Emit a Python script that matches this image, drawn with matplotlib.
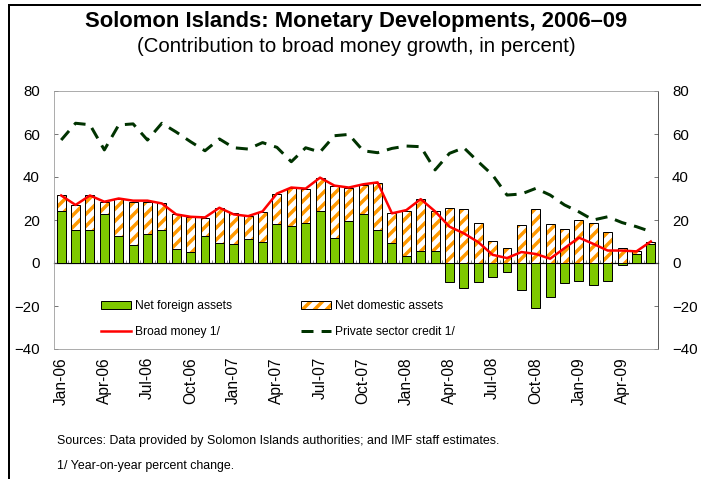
import numpy as np
import matplotlib.pyplot as plt
from matplotlib.lines import Line2D

plt.rcParams['font.family'] = ['Liberation Sans', 'DejaVu Sans']
plt.rcParams['hatch.linewidth'] = 3.5

months = ["Jan-06", "Feb-06", "Mar-06", "Apr-06", "May-06", "Jun-06", "Jul-06", "Aug-06", "Sep-06",
          "Oct-06", "Nov-06", "Dec-06", "Jan-07", "Feb-07", "Mar-07", "Apr-07", "May-07", "Jun-07",
          "Jul-07", "Aug-07", "Sep-07", "Oct-07", "Nov-07", "Dec-07", "Jan-08", "Feb-08", "Mar-08",
          "Apr-08", "May-08", "Jun-08", "Jul-08", "Aug-08", "Sep-08", "Oct-08", "Nov-08", "Dec-08",
          "Jan-09", "Feb-09", "Mar-09", "Apr-09", "May-09", "Jun-09"]

# contribution of net foreign assets
nfa = [24.2, 15.2, 15.2, 22.9, 12.6, 8.2, 13.4, 15.4, 6.6, 5.1, 12.6, 9.2, 8.9, 11.1,
       9.8, 18.2, 17.1, 18.5, 24.0, 11.8, 19.4, 22.6, 15.2, 9.5, 3.2, 5.7, 5.7,
       -8.9, -11.5, -8.8, -6.5, -4.2, -12.6, -21.1, -16.0, -9.1, -8.5, -10.3, -8.3,
       -0.9, 4.2, 8.8]
# contribution of net domestic assets
nda = [7.2, 12.0, 16.2, 5.4, 17.2, 20.1, 14.9, 12.6, 16.0, 16.1, 8.5, 16.6, 14.2, 10.7,
       14.0, 13.8, 18.0, 15.8, 15.7, 24.0, 15.7, 13.7, 22.2, 13.6, 21.1, 24.0, 18.6,
       25.4, 24.9, 18.5, 10.2, 6.9, 17.7, 25.1, 18.0, 16.0, 20.2, 18.8, 14.3,
       6.9, 1.5, 1.2]
broad_money = [31.4, 27.0, 31.4, 28.5, 30.0, 29.0, 29.0, 27.7, 22.6, 21.5, 21.2, 25.7, 22.6, 21.8,
               24.0, 32.3, 35.1, 34.6, 39.7, 36.0, 35.1, 36.6, 37.5, 23.1, 24.6, 29.7, 24.0,
               16.9, 13.8, 9.7, 3.8, 2.3, 5.1, 4.2, 2.0, 6.9, 11.8, 8.9, 5.8,
               5.8, 5.4, 10.0]
private_credit = [57.2, 65.0, 64.3, 52.6, 64.2, 64.7, 57.2, 65.0, 60.9, 56.4, 52.2, 57.7, 53.6, 53.0,
                  56.0, 53.8, 47.1, 53.6, 51.6, 59.2, 59.8, 52.2, 51.3, 53.3, 54.4, 54.1, 43.3,
                  51.0, 53.6, 47.1, 40.9, 31.6, 32.1, 34.7, 31.6, 27.0, 23.8, 20.0, 21.5,
                  18.8, 16.9, 14.6]

x = np.arange(len(months))
nfa = np.array(nfa)
nda = np.array(nda)
nda_base = np.where(nfa > 0, nfa, 0)

fig = plt.figure(figsize=(701 / 72, 479 / 72), dpi=72)
ax = fig.add_axes([54 / 701, 1 - 349 / 479, 604 / 701, 258 / 479])

w = 0.62
b1 = ax.bar(x, nfa, w, color='#7FC800', edgecolor='black', linewidth=1, zorder=2)
b2 = ax.bar(x, nda, w, bottom=nda_base, color='white', edgecolor='#FF9900', hatch='//',
            linewidth=0, zorder=2)
b3 = ax.bar(x, nda, w, bottom=nda_base, color='none', edgecolor='black', linewidth=1, zorder=2)
l1, = ax.plot(x, broad_money, color='#FF0000', lw=2.5, zorder=3)
l2, = ax.plot(x, private_credit, color='#003300', lw=3, dashes=(4, 2.7), zorder=3)

ax.set_xlim(-0.5, len(months) - 0.5)
ax.set_ylim(-40, 80)
ax.set_yticks(range(-40, 81, 20))
ax.tick_params(axis='y', direction='in', length=4, labelsize=15, right=True, labelright=True,
               color='#555555', pad=14)
ax.set_xticks(x[::3])
ax.set_xticklabels(months[::3], rotation=90, fontsize=15.5)
ax.tick_params(axis='x', length=0, pad=8)
for s in ['left', 'top', 'bottom']:
    ax.spines[s].set_color('#999999')
ax.spines['right'].set_color('#333333')

# zero line with small month ticks
sec = ax.secondary_xaxis(1 / 3)
sec.set_xticks(np.arange(len(months) + 1) - 0.5)
sec.tick_params(direction='in', length=3, labelbottom=False, color='#777777')
sec.spines['bottom'].set_color('black')
sec.spines['bottom'].set_linewidth(1.2)

leg = ax.legend([b1, l1, (b2, b3), l2],
                ['Net foreign assets', 'Broad money 1/', 'Net domestic assets', 'Private sector credit 1/'],
                ncol=2, loc='upper left', bbox_to_anchor=(0.06, 0.23), frameon=False,
                fontsize=12, handlelength=2.5, handletextpad=0.3, columnspacing=5.8,
                labelspacing=1.1, handleheight=0.6)

fig.text(356 / 701, 1 - 22 / 479, 'Solomon Islands: Monetary Developments, 2006–09', ha='center',
         va='center', fontsize=22, fontweight='bold')
fig.text(356 / 701, 1 - 47 / 479, '(Contribution to broad money growth, in percent)', ha='center',
         va='center', fontsize=20.4)
fig.text(57 / 701, 1 - 441 / 479, 'Sources: Data provided by Solomon Islands authorities; and IMF staff estimates.',
         fontsize=12.4, va='center')
fig.text(57 / 701, 1 - 466 / 479, '1/ Year-on-year percent change.', fontsize=12.4, va='center')

fig.add_artist(Line2D([9 / 701, 9 / 701], [0, 1 - 5 / 479], color='black', lw=2,
                      transform=fig.transFigure))
fig.add_artist(Line2D([9 / 701, 1], [1 - 5 / 479, 1 - 5 / 479], color='black', lw=2,
                      transform=fig.transFigure))

fig.savefig('out.png', dpi=72)
